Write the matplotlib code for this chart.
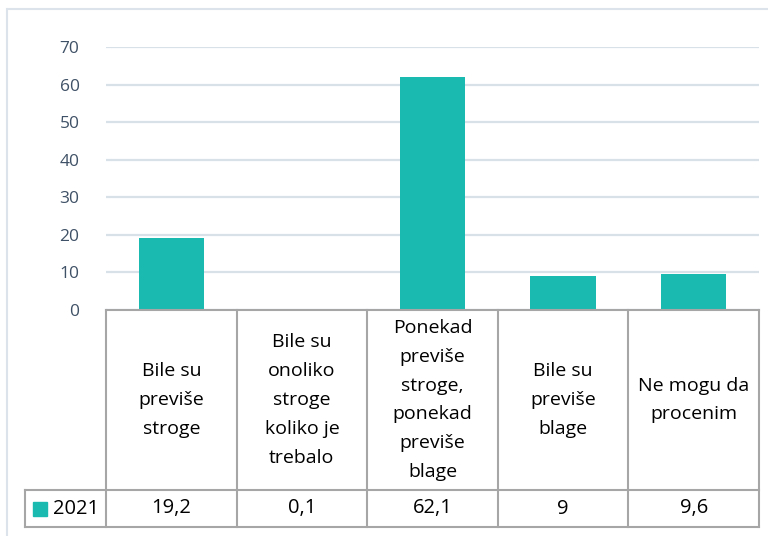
import matplotlib.pyplot as plt
from matplotlib.patches import Rectangle

categories = [
    "Bile su\npreviše\nstroge",
    "Bile su\nonoliko\nstroge\nkoliko je\ntrebalo",
    "Ponekad\npreviše\nstroge,\nponekad\npreviše\nblage",
    "Bile su\npreviše\nblage",
    "Ne mogu da\nprocenim",
]
series_name = "2021"
values = [19.2, 0.1, 62.1, 9, 9.6]
yticks = [0, 10, 20, 30, 40, 50, 60, 70]

teal = "#1ABAB0"
grid_col = "#D8E0E8"
line_col = "#A6A6A6"
tick_col = "#3F5166"

plt.rcParams['font.family'] = ['Open Sans', 'DejaVu Sans']

W, H = 768, 536
fig = plt.figure(figsize=(W / 100, H / 100), dpi=100)

# light outer frame
fig.patches.append(Rectangle((7 / W, -0.1), 1.2, (H - 9) / H + 0.1,
                             transform=fig.transFigure, fill=False,
                             edgecolor="#DCE3EA", lw=1.5))

# bar area
x0, x1 = 106, 759
ax = fig.add_axes([x0 / W, (H - 310) / H, (x1 - x0) / W, (310 - 47) / H])
ax.bar(range(len(values)), values, width=0.5, color=teal, zorder=3)
ax.set_xlim(-0.5, len(values) - 0.5)
ax.set_ylim(0, 70)
ax.set_yticks(yticks)
ax.set_xticks([])
ax.yaxis.grid(True, color=grid_col, lw=1.6)
ax.set_axisbelow(True)
for s in ax.spines.values():
    s.set_visible(False)
ax.tick_params(axis='y', length=0, pad=19, labelsize=12.5, labelcolor=tick_col)

# data table below the bars
col_w = (x1 - x0) / len(values)
left = -0.5 - (x0 - 25) / col_w
tab = fig.add_axes([25 / W, (H - 527) / H, (x1 - 25) / W, (527 - 310) / H])
tab.set_xlim(left, len(values) - 0.5)
tab.set_ylim(0, 217)
tab.axis('off')
row = 37
kw = dict(color=line_col, lw=1.5, clip_on=False)
tab.plot([-0.5, len(values) - 0.5], [217, 217], **kw)
tab.plot([left, len(values) - 0.5], [row, row], **kw)
tab.plot([left, len(values) - 0.5], [0, 0], **kw)
tab.plot([left, left], [0, row], **kw)
for i in range(len(values) + 1):
    tab.plot([i - 0.5, i - 0.5], [0, 217], **kw)

for i, (cat, v) in enumerate(zip(categories, values)):
    tab.text(i, (row + 217) / 2, cat, ha='center', va='center',
             fontsize=14, linespacing=1.77, color='black')
    tab.text(i, row / 2, f"{v:g}".replace('.', ','), ha='center', va='center',
             fontsize=14.5, color='black')

tab.add_patch(Rectangle((left + 7.7 / col_w, 11), 14 / col_w, 14,
                        color=teal, clip_on=False))
tab.text(left + 28 / col_w, row / 2, series_name, ha='left', va='center',
         fontsize=14.5, color='black')

fig.savefig("out.png", dpi=100)
